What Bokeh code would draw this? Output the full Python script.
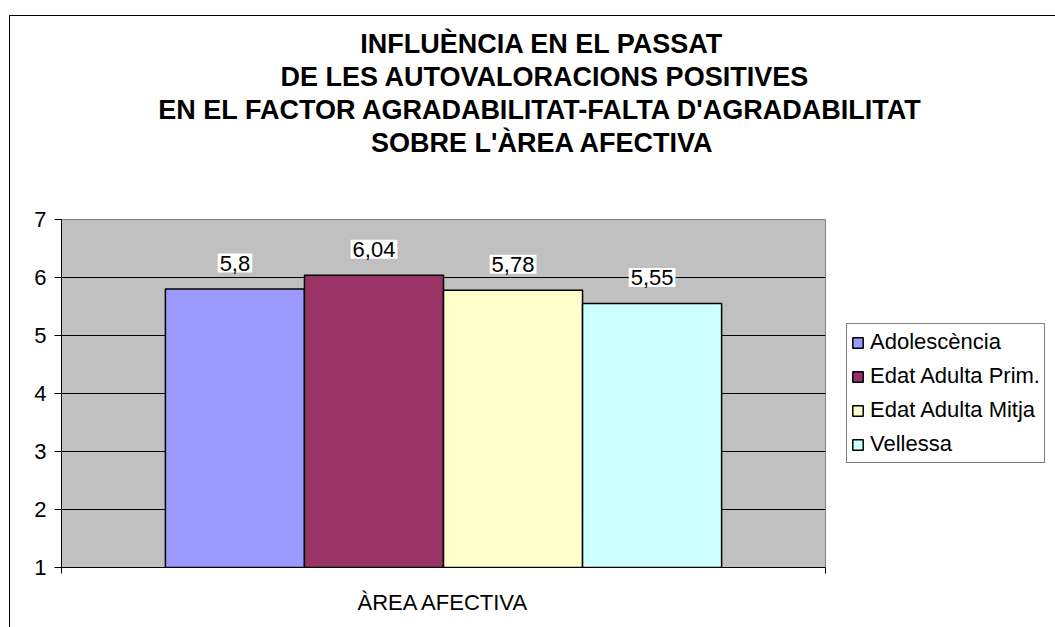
from bokeh.plotting import figure
from bokeh.models import (ColumnDataSource, Range1d, Title,
                          FixedTicker, Legend, LegendItem)
from bokeh.transform import dodge
from bokeh.core.properties import value
from bokeh.embed import file_html
from bokeh.resources import INLINE

# ---- data ----
category = ["ÀREA AFECTIVA"]
series = ["Adolescència", "Edat Adulta Prim.", "Edat Adulta Mitja", "Vellessa"]
values = [5.8, 6.04, 5.78, 5.55]
colors = ["#9999FF", "#993366", "#FFFFCC", "#CCFFFF"]
title_lines = [
    "INFLUÈNCIA EN EL PASSAT",
    "DE LES AUTOVALORACIONS POSITIVES",
    "EN EL FACTOR AGRADABILITAT-FALTA D'AGRADABILITAT",
    "SOBRE L'ÀREA AFECTIVA",
]
y_ticks = [1, 2, 3, 4, 5, 6, 7]

FONT = "Liberation Sans"
TITLE_PX = 27
TITLE_CENTER = 478          # px from the plot-area left edge
cat_pos = list(range(len(category)))

# Arial/Liberation Sans Bold advance widths (1/1000 em) for centring the title lines
BOLD_W = {" ": 278, "'": 238, "-": 333, "A": 722, "B": 722, "C": 722, "D": 722,
          "E": 667, "F": 611, "G": 778, "I": 278, "L": 611, "N": 722, "O": 778,
          "P": 667, "R": 722, "S": 667, "T": 611, "U": 722, "V": 667, "È": 667, "À": 722}


def text_width(s, size):
    return sum(BOLD_W.get(ch, 667) for ch in s) / 1000.0 * size * 0.975


p = figure(
    frame_width=764, frame_height=348,
    x_range=Range1d(-0.5, len(category) - 0.5),
    y_range=Range1d(1, 7),
    output_backend="svg", toolbar_location=None,
    min_border_left=51, min_border_right=230, min_border_top=203, min_border_bottom=60,
)
p.title.visible = False
p.margin = (15, 0, 0, 9)
p.styles = {"border-left": "1px solid #000000", "border-top": "1px solid #000000"}
p.background_fill_color = "#C0C0C0"
p.border_fill_color = "white"
p.outline_line_color = "#808080"
p.outline_line_width = 1

# axes
p.yaxis.ticker = FixedTicker(ticks=y_ticks)
p.yaxis.axis_line_color = "black"
p.yaxis.major_tick_line_color = "black"
p.yaxis.major_tick_out = 7
p.yaxis.major_tick_in = 0
p.yaxis.minor_tick_line_color = None
p.yaxis.major_label_text_font = FONT
p.yaxis.major_label_text_font_size = "22px"
p.yaxis.major_label_text_color = "black"
p.yaxis.major_label_standoff = 8

p.xaxis.ticker = FixedTicker(ticks=cat_pos,
                             minor_ticks=[c - 0.5 for c in cat_pos] + [cat_pos[-1] + 0.5])
p.xaxis.major_label_overrides = {c: name for c, name in zip(cat_pos, category)}
p.xaxis.axis_line_color = "black"
p.xaxis.major_tick_line_color = None
p.xaxis.major_tick_out = 0
p.xaxis.major_tick_in = 0
p.xaxis.minor_tick_line_color = "black"
p.xaxis.minor_tick_out = 6
p.xaxis.minor_tick_in = 0
p.xaxis.major_label_text_font = FONT
p.xaxis.major_label_text_font_size = "22px"
p.xaxis.major_label_text_color = "black"
p.xaxis.major_label_standoff = 16

p.xgrid.grid_line_color = None
p.ygrid.grid_line_color = "black"
p.ygrid.grid_line_width = 1

# title: a spacer next to the plot area, then the lines (nearest first)
p.add_layout(Title(text=" ", text_font_size="1px", standoff=58), "above")
for t in reversed(title_lines):
    p.add_layout(Title(text=t, align="left",
                       offset=TITLE_CENTER - text_width(t, TITLE_PX) / 2,
                       text_font=FONT, text_font_size=f"{TITLE_PX}px",
                       text_font_style="bold", text_color="black", standoff=1),
                 "above")

# bars
w = 0.182
items = []
for i, (name, v, c) in enumerate(zip(series, values, colors)):
    off = (i - 1.5) * w
    src = ColumnDataSource(dict(cat=cat_pos, v=[v], lab=[str(v).replace(".", ",")]))
    r = p.vbar(x=dodge("cat", off), top="v", bottom=1, width=w,
               source=src, fill_color=c, line_color="black", line_width=1.5)
    p.text(x=dodge("cat", off), y="v", text="lab", source=src,
           text_font=value(FONT), text_font_size="22px", text_color="black",
           text_align="center", text_baseline="middle", y_offset=-26,
           background_fill_color="white", padding=2)
    items.append(LegendItem(label=name, renderers=[r]))

# legend in the right panel, vertically centred on the plot area
lg = Legend(items=items, location="center_left", margin=21, padding=4, spacing=6,
            border_line_color="black", border_line_width=1,
            background_fill_color="white", background_fill_alpha=1,
            label_text_font=FONT, label_text_font_size="22px", label_text_color="black",
            glyph_width=13, glyph_height=13, label_height=28, label_standoff=6)
p.add_layout(lg, "right")

open("out.html", "w").write(file_html(p, INLINE))
